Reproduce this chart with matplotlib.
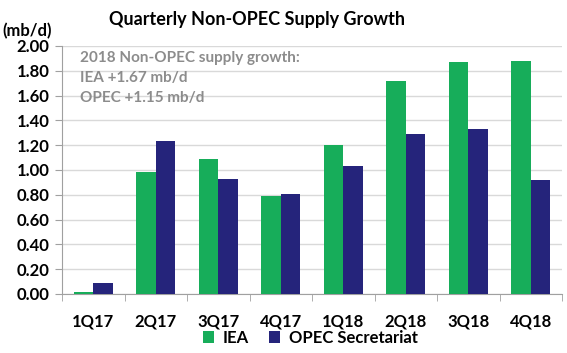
import numpy as np
import matplotlib
matplotlib.use('Agg')
import matplotlib.pyplot as plt

plt.rcParams['font.family'] = ['Lato', 'DejaVu Sans']

quarters = ['1Q17', '2Q17', '3Q17', '4Q17', '1Q18', '2Q18', '3Q18', '4Q18']
iea = [0.02, 0.98, 1.09, 0.79, 1.20, 1.72, 1.87, 1.88]
opec = [0.09, 1.23, 0.93, 0.81, 1.03, 1.29, 1.33, 0.92]
yticks = [0.0, 0.2, 0.4, 0.6, 0.8, 1.0, 1.2, 1.4, 1.6, 1.8, 2.0]

green = '#17ad5a'
navy = '#25247b'

fig = plt.figure(figsize=(5.67, 3.53), dpi=100)
ax = fig.add_axes([62/567, 1 - 294/353, 500/567, 248/353])

x = np.arange(len(quarters))
w = 0.31
ax.bar(x - w/2, iea, w, color=green, label='IEA', zorder=3)
ax.bar(x + w/2, opec, w, color=navy, label='OPEC Secretariat', zorder=3)

ax.set_xlim(-0.5, len(quarters) - 0.5)
ax.set_ylim(0, 2.0)
ax.set_yticks(yticks)
ax.set_yticklabels([f'{v:.2f}' for v in yticks], fontsize=12, fontweight='bold')
ax.yaxis.grid(True, color='#d9d9d9', linewidth=1, zorder=0)
ax.tick_params(axis='y', length=5, color='#a0a0a0', pad=4)

ax.set_xticks(x)
ax.set_xticklabels(quarters, fontsize=12, fontweight='bold')
ax.set_xticks(np.arange(len(quarters) + 1) - 0.5, minor=True)
ax.tick_params(axis='x', which='major', length=0, pad=14)
ax.tick_params(axis='x', which='minor', length=5, color='#a0a0a0')

for s in ['top', 'right']:
    ax.spines[s].set_visible(False)
for s in ['left', 'bottom']:
    ax.spines[s].set_color('#a0a0a0')

fig.text(257/567, 1 - 20/353, 'Quarterly Non-OPEC Supply Growth', ha='center', va='center',
         fontsize=13, fontweight='bold')
fig.text(2/567, 1 - 31/353, '(mb/d)', ha='left', va='center', fontsize=12, fontweight='bold')

note = ['2018 Non-OPEC supply growth:', 'IEA +1.67 mb/d', 'OPEC +1.15 mb/d']
for i, line in enumerate(note):
    fig.text(80/567, 1 - (58 + i * 20)/353, line, ha='left', va='center',
             fontsize=11, fontweight='bold', color='#8c8c8c')

fig.legend(loc='center', bbox_to_anchor=(310/567, 1 - 338/353), ncol=2, frameon=False,
           prop={'size': 12, 'weight': 'bold'}, handlelength=0.7, handleheight=0.7,
           columnspacing=1.2, handletextpad=0.5)

fig.savefig('out.png', dpi=100)
